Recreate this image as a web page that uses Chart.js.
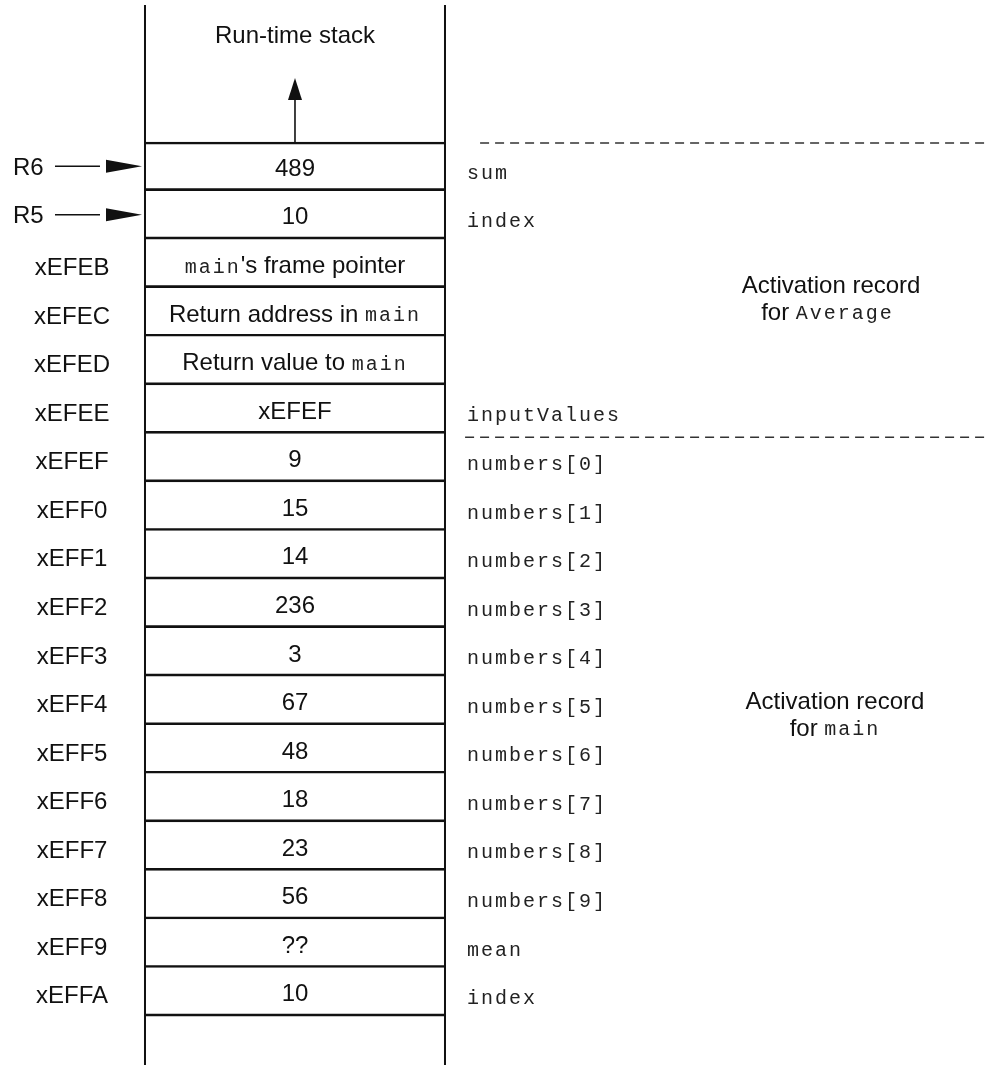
<!DOCTYPE html>
<html>
<head>
<meta charset="utf-8">
<script src="https://cdn.jsdelivr.net/npm/chart.js@4/dist/chart.umd.min.js"></script>
<style>
html,body{margin:0;padding:0;background:#fff;}
#wrap{width:987px;height:1065px;position:relative;}
</style>
</head>
<body>
<div id="wrap"><canvas id="c"></canvas></div>
<script>
// ---- data ----
const addressLabels = ['R6','R5','xEFEB','xEFEC','xEFED','xEFEE','xEFEF','xEFF0','xEFF1','xEFF2','xEFF3','xEFF4','xEFF5','xEFF6','xEFF7','xEFF8','xEFF9','xEFFA',''];
const registerRows = [true,true,false,false,false,false,false,false,false,false,false,false,false,false,false,false,false,false,false];
const cellContents = ['489','10','`main`\'s frame pointer','Return address in `main`','Return value to `main`','xEFEF','9','15','14','236','3','67','48','18','23','56','??','10',''];
const variableNames = ['sum','index','','','','inputValues','numbers[0]','numbers[1]','numbers[2]','numbers[3]','numbers[4]','numbers[5]','numbers[6]','numbers[7]','numbers[8]','numbers[9]','mean','index',''];
const frameBoundaries = [0, 6];
const frameNames = ['Average','main'];
const stackTitle = 'Run-time stack';

// ---- layout (in scale units: x 0..1 = stack width, y = row index) ----
const ROWS = cellContents.length;
const SANS = '"Liberation Sans", Arial, Helvetica, sans-serif';
const MONO = '"Liberation Mono", "Courier New", monospace';
const INK = '#111';
const SANS_PX = 24, MONO_PX = 20, MONO_LS = '2px';

const filledRows = cellContents.map((c,i)=>i).filter(i => i < ROWS-1);
const cellData = filledRows.map(i => ({x:[0,1], y:i+0.5}));

const datasets = [
  {
    type:'bar',
    data: cellData,
    backgroundColor:'rgba(0,0,0,0)',
    borderColor: INK,
    borderSkipped:false,
    borderWidth: ctx => ({top: ctx.dataIndex===0 ? 2 : 0, bottom:2, left:0, right:0}),
    barPercentage:1,
    categoryPercentage:1
  },
  // stack walls
  {type:'line', indexAxis:'y', data:[{x:0,y:-2.82},{x:0,y:ROWS+0.1}], borderColor:INK, borderWidth:2, pointRadius:0},
  {type:'line', indexAxis:'y', data:[{x:1,y:-2.82},{x:1,y:ROWS+0.1}], borderColor:INK, borderWidth:2, pointRadius:0},
  // frame boundaries (dashed)
  {type:'line', indexAxis:'y', data:[{x:1.117,y:frameBoundaries[0]+0.02},{x:2.81,y:frameBoundaries[0]+0.02}], borderColor:'#333', borderWidth:1.6, borderDash:[9,6], pointRadius:0},
  {type:'line', indexAxis:'y', data:[{x:1.067,y:frameBoundaries[1]+0.08},{x:2.81,y:frameBoundaries[1]+0.08}], borderColor:'#333', borderWidth:1.6, borderDash:[9,6], pointRadius:0}
];

function drawMixed(ctx, text, cx, cy, align){
  const parts = text.split('`').map((t,k)=>({t, mono: k%2===1})).filter(p=>p.t.length);
  const w = [];
  const setFont = p => {
    ctx.font = p.mono ? (MONO_PX+'px '+MONO) : (SANS_PX+'px '+SANS);
    ctx.letterSpacing = p.mono ? MONO_LS : '0px';
  };
  parts.forEach(p=>{ setFont(p); w.push(ctx.measureText(p.t).width); });
  const total = w.reduce((a,b)=>a+b,0);
  let x = align==='left' ? cx : cx - total/2;
  ctx.textAlign = 'left';
  ctx.textBaseline = 'middle';
  parts.forEach((p,k)=>{
    setFont(p);
    ctx.fillStyle = p.mono ? '#222' : INK;
    ctx.fillText(p.t, x, cy + (p.mono ? 1 : 0));
    x += w[k];
  });
  ctx.letterSpacing = '0px';
}

function arrowHead(ctx, tipX, tipY, dirX, dirY, len, half){
  const bx = tipX - dirX*len, by = tipY - dirY*len;
  const px = -dirY, py = dirX;
  ctx.beginPath();
  ctx.moveTo(tipX, tipY);
  ctx.lineTo(bx + px*half, by + py*half);
  ctx.lineTo(bx - px*half, by - py*half);
  ctx.closePath();
  ctx.fill();
}

const textPlugin = {
  id:'stackText',
  afterDatasetsDraw(chart){
    const ctx = chart.ctx;
    const X = v => chart.scales.x.getPixelForValue(v);
    const Y = v => chart.scales.y.getPixelForValue(v);
    ctx.save();
    ctx.fillStyle = INK;
    ctx.strokeStyle = INK;

    // title
    drawMixed(ctx, stackTitle, X(0.5), Y(-2.17), 'center');

    // growth arrow
    ctx.lineWidth = 1.6;
    ctx.beginPath();
    ctx.moveTo(X(0.5), Y(0));
    ctx.lineTo(X(0.5), Y(-0.9));
    ctx.stroke();
    arrowHead(ctx, X(0.5), Y(-1.32), 0, -1, 22, 7);

    for(let i=0;i<ROWS;i++){
      const cy = Y(i+0.5);
      if(cellContents[i]) drawMixed(ctx, cellContents[i], X(0.5), cy+3, 'center');
      if(variableNames[i]) drawMixed(ctx, '`'+variableNames[i]+'`', X(1.073), cy+6, 'left');
      if(addressLabels[i]){
        if(registerRows[i]){
          drawMixed(ctx, addressLabels[i], X(-0.44), cy+2, 'left');
          ctx.lineWidth = 1.5;
          ctx.beginPath();
          ctx.moveTo(X(-0.3), cy);
          ctx.lineTo(X(-0.15), cy);
          ctx.stroke();
          arrowHead(ctx, X(-0.01), cy, 1, 0, 36, 6.5);
        } else {
          drawMixed(ctx, addressLabels[i], X(-0.243), cy+5, 'center');
        }
      }
    }

    // frame labels
    drawMixed(ctx, 'Activation record', X(2.287), Y(2.98), 'center');
    drawMixed(ctx, 'for `'+frameNames[0]+'`', X(2.275), Y(3.52), 'center');
    drawMixed(ctx, 'Activation record', X(2.30), Y(11.53), 'center');
    drawMixed(ctx, 'for `'+frameNames[1]+'`', X(2.30), Y(12.09), 'center');
    ctx.restore();
  }
};

new Chart(document.getElementById('c'), {
  type:'bar',
  data:{datasets},
  options:{
    indexAxis:'y',
    responsive:true,
    maintainAspectRatio:false,
    animation:false,
    layout:{padding:0},
    plugins:{legend:{display:false}, tooltip:{enabled:false}},
    scales:{
      x:{type:'linear', display:false, offset:false, min:-0.4833, max:2.8067},
      y:{type:'linear', display:false, offset:false, reverse:true, min:-2.924, max:19.007}
    }
  },
  plugins:[textPlugin]
});
</script>
</body>
</html>
